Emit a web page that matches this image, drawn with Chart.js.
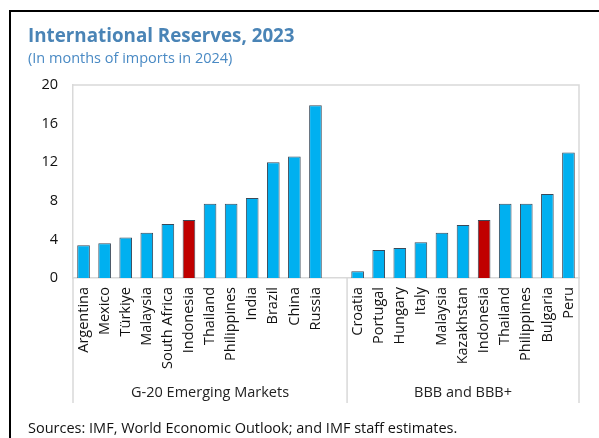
<!DOCTYPE html>
<html>
<head>
<meta charset="utf-8">
<script src="https://cdn.jsdelivr.net/npm/chart.js@4"></script>
<style>
  body{margin:0;background:#fff;}
  #wrap{position:relative;width:599px;height:438px;overflow:hidden;font-family:"Open Sans",sans-serif;}
  #frame{position:absolute;left:9px;top:10px;width:700px;height:600px;border-left:2px solid #000;border-top:2px solid #000;}
  #title{position:absolute;left:28px;top:22px;font-size:18.8px;font-weight:bold;color:#4a84b6;white-space:nowrap;}
  #sub{position:absolute;left:28px;top:48px;font-size:14.5px;color:#4a8ac4;white-space:nowrap;}
  #src{position:absolute;left:28px;top:418px;font-size:14.5px;color:#111;white-space:nowrap;}
  #c{position:absolute;left:0;top:0;}
</style>
</head>
<body>
<div id="wrap">
  <div id="frame"></div>
  <canvas id="c" width="599" height="438"></canvas>
  <div id="title">International Reserves, 2023</div>
  <div id="sub">(In months of imports in 2024)</div>
  <div id="src">Sources: IMF, World Economic Outlook; and IMF staff estimates.</div>
</div>
<script>
/* Reserves in months of imports, two peer groups */
const g20 = ["Argentina","Mexico","Türkiye","Malaysia","South Africa","Indonesia","Thailand","Philippines","India","Brazil","China","Russia"];
const g20Vals = [3.4,3.6,4.2,4.7,5.6,6.0,7.7,7.7,8.3,12.0,12.6,17.9];
const bbb = ["Croatia","Portugal","Hungary","Italy","Malaysia","Kazakhstan","Indonesia","Thailand","Philippines","Bulgaria","Peru"];
const bbbVals = [0.7,2.9,3.1,3.7,4.7,5.5,6.0,7.7,7.7,8.7,13.0];
const groupNames = ["G-20 Emerging Markets","BBB and BBB+"];
const highlight = "Indonesia";

const BLUE = "#00b0f0", RED = "#c00000", LINE = "#d9d9d9";

// one empty slot closes the first group
const labels = [...g20, "", ...bbb];
const values = [...g20Vals, null, ...bbbVals];
const colors = labels.map(l => l===highlight ? RED : BLUE);

const groupPlugin = {
  id: "groups",
  afterDraw(chart){
    const {ctx, chartArea:a} = chart;
    const slot = (a.right - a.left)/labels.length;
    const edges = [a.left, a.left + (g20.length+1)*slot, a.right];
    ctx.save();
    ctx.strokeStyle = LINE; ctx.lineWidth = 1.5;
    // plot frame top + right
    ctx.beginPath();
    ctx.moveTo(a.left, a.top); ctx.lineTo(a.right, a.top); ctx.lineTo(a.right, a.bottom);
    ctx.stroke();
    // group dividers
    edges.forEach(e=>{ ctx.beginPath(); ctx.moveTo(e, a.bottom); ctx.lineTo(e, 403); ctx.stroke(); });
    ctx.fillStyle = "#222";
    ctx.font = '14.5px "Open Sans"';
    ctx.textAlign = "center"; ctx.textBaseline = "middle";
    groupNames.forEach((g,i)=> ctx.fillText(g, (edges[i]+edges[i+1])/2, 393));
    ctx.restore();
  }
};

new Chart(document.getElementById("c"), {
  type: "bar",
  data: {
    labels: labels,
    datasets: [{
      data: values,
      backgroundColor: colors,
      borderColor: "#3a4a5a",
      borderWidth: 1,
      barPercentage: 0.6,
      categoryPercentage: 1
    }]
  },
  options: {
    responsive: false,
    animation: false,
    layout: { padding: { top: 85, right: 20, left: 0, bottom: 0 } },
    plugins: { legend: { display: false }, tooltip: { enabled: false } },
    scales: {
      x: {
        grid: { display: false, drawTicks: false },
        border: { color: LINE, width: 1.5 },
        ticks: { color: "#111", font: { family: "Open Sans", size: 14.5 }, minRotation: 90, maxRotation: 90, padding: 9, autoSkip: false },
        afterFit(s){ s.height = 160; }
      },
      y: {
        min: 0, max: 20,
        grid: { display: false, drawTicks: false },
        border: { color: LINE, width: 1.5 },
        ticks: { stepSize: 4, color: "#111", font: { family: "Open Sans", size: 14.5 }, padding: 15 },
        afterFit(s){ s.width = 73; }
      }
    }
  },
  plugins: [groupPlugin]
});
</script>
</body>
</html>
